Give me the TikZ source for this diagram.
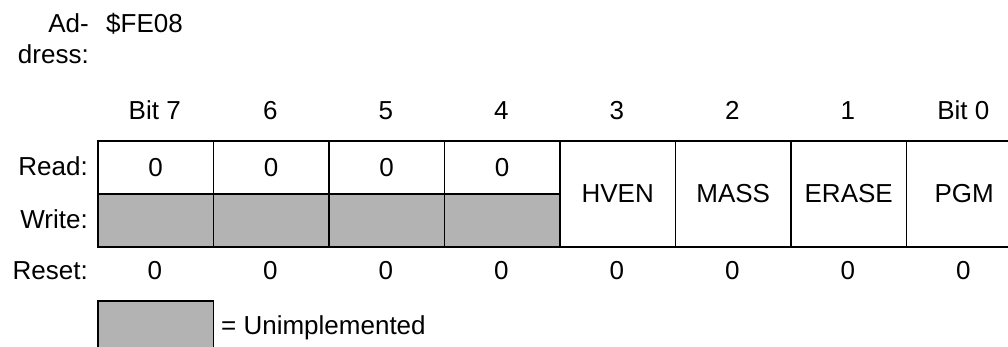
\documentclass[tikz,border=0pt]{standalone}
\usepackage{fontspec}
\setmainfont{Liberation Sans}
\usetikzlibrary{positioning}
\definecolor{unimp}{RGB}{179,179,179}
\tikzset{l/.style={font=\fontsize{26}{31}\selectfont, inner sep=0pt}}
\tikzset{cell/.style={l, draw, line width=1.9pt, anchor=north west,
    minimum width=115.5pt, minimum height=53pt}}

\begin{document}
\begin{tikzpicture}[x=1pt,y=-1pt]
  \useasboundingbox (0,0) rectangle (1008,347);
  \clip (0,0) rectangle (1008,347);
  % address
  \node[l, anchor=base east] (ad) at (89,33) {Ad-};
  \node[l, anchor=base east] (dress) at (89,64) {dress:};
  \node[l, anchor=base west] (addr) at (106,33) {\$FE08};
  % row labels
  \node[l, anchor=base east] (read) at (88,176) {Read:};
  \node[l, anchor=base east] (write) at (88,229) {Write:};
  \node[l, anchor=base east] (reset) at (88,279) {Reset:};
  % bits 7..4
  \foreach \i/\b in {0/Bit 7,1/6,2/5,3/4} {
    \node[l, anchor=base] (h\i) at (154.75+115.5*\i,120) {\b};
    \node[cell] (r\i) at (97+115.5*\i,140) {0};
    \node[cell, fill=unimp] (w\i) at (97+115.5*\i,193) {};
    \node[l, anchor=base] (s\i) at (154.75+115.5*\i,279) {0};
  }
  % bits 3..0
  \foreach \i/\b/\n in {4/3/HVEN,5/2/MASS,6/1/ERASE,7/Bit 0/PGM} {
    \node[l, anchor=base] (h\i) at (154.75+115.5*\i,120) {\b};
    \node[cell, minimum height=106pt] (c\i) at (97+115.5*\i,140) {\n};
    \node[l, anchor=base] (s\i) at (154.75+115.5*\i,279) {0};
  }
  % key
  \node[cell, fill=unimp, minimum height=70pt] (key) at (97,300) {};
  \node[l, anchor=base west] (keytxt) at (221,334) {= Unimplemented};
\end{tikzpicture}
\end{document}
